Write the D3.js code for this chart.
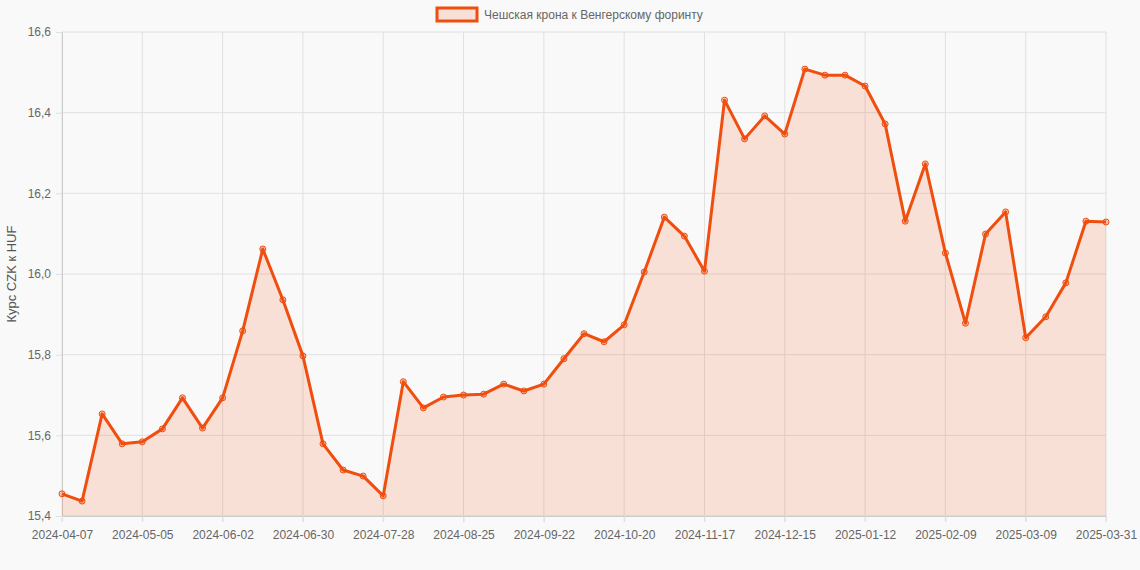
<!DOCTYPE html>
<html><head><meta charset="utf-8">
<script src="https://cdn.jsdelivr.net/npm/d3@7"></script>
<style>body{margin:0;background:#f9f9f9;}svg{display:block;font-family:"Liberation Sans",Arial,sans-serif;}</style>
</head><body><svg id="c" width="1140" height="570"></svg>
<script>
const startDate = "2024-04-07";
const lastLabel = "2025-03-31";
const seriesName = "Чешская крона к Венгерскому форинту";
const yTitle = "Курс CZK к HUF";
const values = [15.455,15.437,15.653,15.579,15.584,15.616,15.693,15.618,15.693,15.859,16.062,15.936,15.797,15.579,15.514,15.499,15.450,15.733,15.668,15.695,15.700,15.702,15.727,15.710,15.727,15.790,15.852,15.832,15.874,16.005,16.141,16.094,16.007,16.431,16.335,16.392,16.347,16.508,16.493,16.493,16.466,16.372,16.131,16.273,16.052,15.878,16.099,16.154,15.842,15.894,15.978,16.131,16.129];
const yTicks = [15.4,15.6,15.8,16.0,16.2,16.4,16.6];

const fmt = d3.timeFormat("%Y-%m-%d");
const s = d3.timeParse("%Y-%m-%d")(startDate);
const categories = values.map((v,i)=> i===values.length-1 ? lastLabel : fmt(d3.timeDay.offset(s,7*i)));
const data = values.map((v,i)=>({c:categories[i],v}));

const svg = d3.select("#c");
const L=62,R=1106,T=32,B=516;
const x = d3.scalePoint().domain(categories).range([L,R]);
const y = d3.scaleLinear().domain([15.4,16.6]).range([B,T]);
const tickCats = categories.filter((c,i)=> i%4===0 || i===categories.length-1);

const g = svg.append("g");
g.selectAll(".gy").data(yTicks).join("line").attr("x1",L).attr("x2",R).attr("y1",d=>y(d)).attr("y2",d=>y(d)).attr("stroke","#e0e0e0");
g.selectAll(".gx").data(tickCats).join("line").attr("x1",d=>x(d)).attr("x2",d=>x(d)).attr("y1",T).attr("y2",B+6).attr("stroke","#e0e0e0");
const ya = svg.append("g").attr("transform",`translate(${L},0)`).call(d3.axisLeft(y).tickValues(yTicks).tickSize(6).tickFormat(d=>d3.format(".1f")(d).replace(".",",")));
const xa = svg.append("g").attr("transform",`translate(0,${B})`).call(d3.axisBottom(x).tickValues(tickCats).tickSize(6));
[ya,xa].forEach(a=>{a.select(".domain").attr("stroke","#ccc");a.selectAll(".tick line").attr("stroke","#e0e0e0");a.selectAll("text").attr("fill","#666").attr("font-size",12);});
ya.selectAll("text").attr("dx",-2);
xa.selectAll("text").attr("dy",14);
svg.append("text").attr("transform",`translate(16,${(T+B)/2}) rotate(-90)`).attr("text-anchor","middle").attr("fill","#555").attr("font-size",13).text(yTitle);
svg.append("path").datum(data).attr("d",d3.area().x(d=>x(d.c)).y0(B).y1(d=>y(d.v))).attr("fill","rgba(240,78,15,0.15)");
svg.append("path").datum(data).attr("d",d3.line().x(d=>x(d.c)).y(d=>y(d.v))).attr("fill","none").attr("stroke","#f04e0f").attr("stroke-width",3).attr("stroke-linejoin","round");
svg.selectAll(".pt").data(data).join("circle").attr("cx",d=>x(d.c)).attr("cy",d=>y(d.v)).attr("r",3).attr("fill","rgba(240,78,15,0.3)").attr("stroke","#f04e0f").attr("stroke-width",1);
const lg = svg.append("g");
lg.append("rect").attr("x",437).attr("y",8).attr("width",40).attr("height",13).attr("fill","rgba(240,78,15,0.15)").attr("stroke","#f04e0f").attr("stroke-width",3);
lg.append("text").attr("x",484).attr("y",19).attr("fill","#666").attr("font-size",12).text(seriesName);
</script></body></html>
